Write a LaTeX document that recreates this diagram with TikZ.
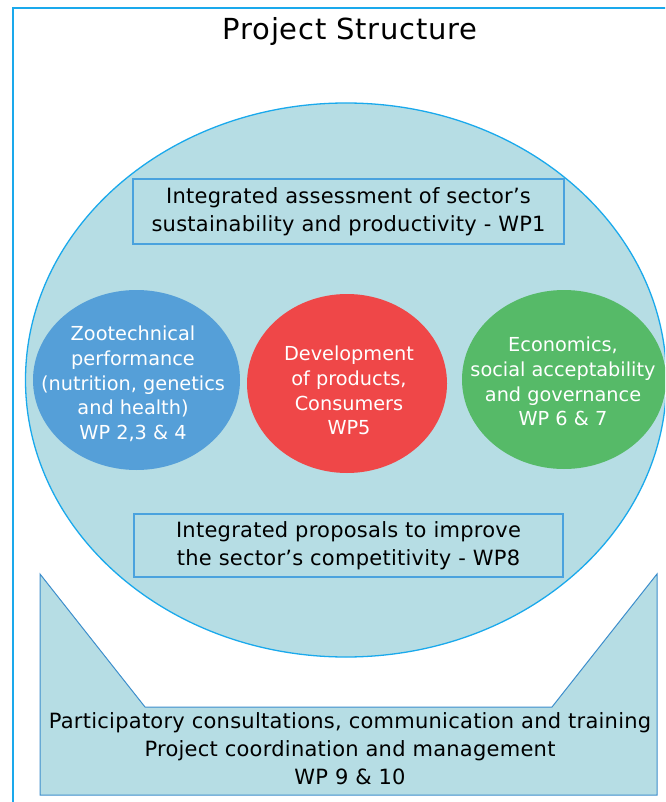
\documentclass[tikz,border=0pt]{standalone}
\usepackage{fontspec}
\setmainfont{DejaVu Sans}
\newfontfamily\wideface[LetterSpace=1.2]{DejaVu Sans}
\newfontfamily\titleface[LetterSpace=2.5]{DejaVu Sans}
\usetikzlibrary{shapes.geometric}

\definecolor{paleblue}{HTML}{B6DDE4}
\definecolor{framecyan}{HTML}{1AA9EC}
\definecolor{boxblue}{HTML}{4AA2DE}
\definecolor{edgeblue}{HTML}{3D8ECC}
\definecolor{wpblue}{HTML}{559FD8}
\definecolor{wpred}{HTML}{EF4748}
\definecolor{wpgreen}{HTML}{56BA68}

\tikzset{
  wpbox/.style={draw=boxblue, fill=paleblue, line width=1.2pt, align=center,
    inner sep=0pt, font=\wideface\fontsize{21}{28.4}\selectfont},
  wpcircle/.style={ellipse, inner sep=0pt},
  wptext/.style={align=center, text=white, inner sep=0pt,
    font=\fontsize{19.3}{24.7}\selectfont}
}

\begin{document}
\begin{tikzpicture}[x=1pt, y=-1pt]
  \useasboundingbox (0,0) rectangle (665,802);
  \clip (0,0) rectangle (665,802);
  %frame and title
  \draw[framecyan, line width=1.6pt] (13,8) rectangle (690,830);
  \node[anchor=base] (title) at (350,40) {\titleface\fontsize{29}{34}\selectfont Project Structure};

  %sector ellipse
  \node[ellipse, draw=framecyan, fill=paleblue, line width=1.3pt,
    minimum width=641pt, minimum height=554pt] (sector) at (346,380) {};

  \node[wpbox, minimum width=431pt, minimum height=65pt] (wp1) at (348.5,211.5)
    {Integrated assessment of sector’s\\sustainability and productivity - WP1};
  \node[wpbox, minimum width=429pt, minimum height=63pt] (wp8) at (348.5,545.5)
    {Integrated proposals to improve\\the sector’s competitivity - WP8};

  %work packages
  \node[wpcircle, fill=wpblue, minimum width=207pt, minimum height=180pt] (zoo) at (136.5,380) {};
  \node[wpcircle, fill=wpred, minimum width=200pt, minimum height=179pt] (prod) at (347,383.5) {};
  \node[wpcircle, fill=wpgreen, minimum width=204pt, minimum height=179pt] (econ) at (564,379.5) {};
  \node[wptext] (zootext) at (133,384)
    {Zootechnical\\performance\\(nutrition, genetics\\and health)\\WP 2,3 \& 4};
  \node[wptext] (prodtext) at (349,390.5)
    {Development\\of products,\\Consumers\\WP5};
  \node[wptext] (econtext) at (563,381.5)
    {Economics,\\social acceptability\\and governance\\WP 6 \& 7};

  %participation base
  \draw[edgeblue, fill=paleblue, line width=1pt]
    (40,574) -- (145,707) -- (552,707) -- (657,574) -- (657,795) -- (40,795) -- cycle;
  \node[align=center, inner sep=0pt, font=\wideface\fontsize{21}{28}\selectfont] (wp9) at (350,749)
    {Participatory consultations, communication and training\\Project coordination and management\\WP 9 \& 10};
\end{tikzpicture}
\end{document}
